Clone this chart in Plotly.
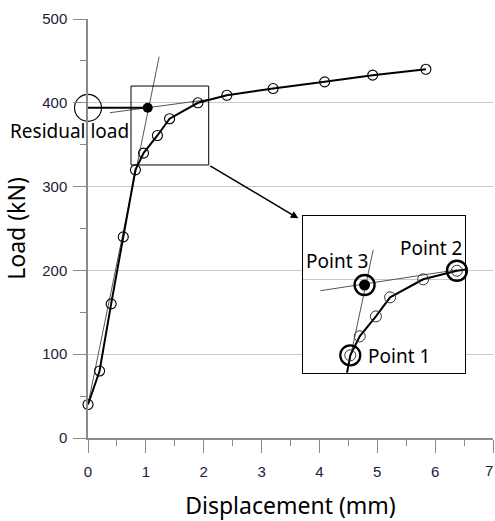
import plotly.graph_objects as go

# ---- data ----
disp = [0, 0.2, 0.4, 0.61, 0.82, 0.96, 1.2, 1.41, 1.9, 2.4, 3.2, 4.09, 4.92, 5.84]
load = [40, 80, 160, 240, 320, 340, 361, 381, 400, 409, 417, 425, 433, 440]

elastic_x = [0, 1.23]
elastic_y = [40, 455]
plastic_x = [0.38, 2.1]
plastic_y = [388.2, 404]

residual_x = [0, 1.032]
residual_y = [394, 394]

inset_elastic_x = [0.78, 1.16]
inset_elastic_y = [304, 431]
inset_plastic_x = [0.38, 2.4]
inset_plastic_y = [388, 410]

marked_x = [0.82, 2.4, 1.032]      # Point 1, Point 2, Point 3
marked_y = [320, 409, 394]
marked_names = ["Point 1", "Point 2", "Point 3"]

x_ticks = [0, 1, 2, 3, 4, 5, 6, 7]
y_ticks = [0, 100, 200, 300, 400, 500]

zoom_box = dict(x0=0.743, x1=2.086, y0=325.8, y1=420)

FONT = "Noto Sans"
TICKFONT = dict(family="Liberation Sans, Arial", size=15, color="#1c2238")
AXIS_GRAY = "#8a8a8a"
GRID_GRAY = "#c8c8c8"

fig = go.Figure()

# ---- main chart ----
fig.add_trace(go.Scatter(x=elastic_x, y=elastic_y, mode="lines",
                         line=dict(color="#555555", width=1), hoverinfo="skip"))
fig.add_trace(go.Scatter(x=plastic_x, y=plastic_y, mode="lines",
                         line=dict(color="#555555", width=1), hoverinfo="skip"))
fig.add_trace(go.Scatter(x=residual_x, y=residual_y, mode="lines",
                         line=dict(color="black", width=2), hoverinfo="skip"))
fig.add_trace(go.Scatter(x=disp, y=load, mode="lines+markers",
                         line=dict(color="black", width=2),
                         marker=dict(symbol="circle-open", size=10, color="black",
                                     line=dict(color="black", width=1.1)),
                         cliponaxis=False))
fig.add_trace(go.Scatter(x=[residual_x[1]], y=[residual_y[1]], mode="markers",
                         marker=dict(symbol="circle", size=10, color="black"),
                         cliponaxis=False))
fig.add_trace(go.Scatter(x=[residual_x[0]], y=[residual_y[0]], mode="markers",
                         marker=dict(symbol="circle-open", size=27, color="black",
                                     line=dict(color="black", width=1.1)),
                         cliponaxis=False))

# ---- inset ----
fig.add_trace(go.Scatter(x=inset_elastic_x, y=inset_elastic_y, mode="lines",
                         line=dict(color="#555555", width=1),
                         xaxis="x2", yaxis="y2", hoverinfo="skip"))
fig.add_trace(go.Scatter(x=inset_plastic_x, y=inset_plastic_y, mode="lines",
                         line=dict(color="#555555", width=1),
                         xaxis="x2", yaxis="y2", hoverinfo="skip"))
fig.add_trace(go.Scatter(x=disp, y=load, mode="lines+markers",
                         line=dict(color="black", width=2),
                         marker=dict(symbol="circle-open", size=11, color="#333333",
                                     line=dict(color="#333333", width=1)),
                         xaxis="x2", yaxis="y2"))
fig.add_trace(go.Scatter(x=[residual_x[1]], y=[residual_y[1]], mode="markers",
                         marker=dict(symbol="circle", size=11, color="black"),
                         xaxis="x2", yaxis="y2"))
fig.add_trace(go.Scatter(x=marked_x, y=marked_y, mode="markers",
                         marker=dict(symbol="circle-open", size=20, color="black",
                                     line=dict(color="black", width=2.3)),
                         xaxis="x2", yaxis="y2", cliponaxis=False))

fig.add_shape(type="rect", xref="x", yref="y", **zoom_box,
              line=dict(color="black", width=1))

fig.add_annotation(x=3.635, y=262.2, ax=zoom_box["x1"], ay=zoom_box["y0"],
                   xref="x", yref="y", axref="x", ayref="y", text="",
                   showarrow=True, arrowhead=2, arrowsize=1, arrowwidth=1.5,
                   arrowcolor="black")

label_pos = {"Point 1": (5.375, 97.9), "Point 2": (5.925, 226.7), "Point 3": (4.312, 211.2)}
for name in marked_names:
    px, py = label_pos[name]
    fig.add_annotation(x=px, y=py, xref="x", yref="y", text=name, showarrow=False,
                       xanchor="center", yanchor="middle",
                       font=dict(family=FONT, size=19, color="black"))

fig.add_annotation(x=-0.0469, y=0.7327, xref="paper", yref="paper",
                   text="Residual load", showarrow=False,
                   xanchor="center", yanchor="middle",
                   font=dict(family=FONT, size=19, color="black"))

# last x tick label sits right at the page edge: keep it inside the page
x_ticktext = [str(v) for v in x_ticks[:-1]] + [""]
fig.add_annotation(x=1.0025, y=-0.0764, xref="paper", yref="paper",
                   text=str(x_ticks[-1]), showarrow=False,
                   xanchor="right", yanchor="middle", borderpad=0,
                   font=TICKFONT)

fig.update_layout(
    width=495, height=521,
    margin=dict(l=88, r=2, t=19, b=83),
    paper_bgcolor="white", plot_bgcolor="white",
    showlegend=False,
    xaxis=dict(range=[0, 7], tickvals=x_ticks, ticktext=x_ticktext,
               showgrid=False, zeroline=False,
               showline=True, linecolor=AXIS_GRAY, linewidth=1.5,
               ticks="outside", ticklen=13, tickcolor=AXIS_GRAY, tickwidth=1.3,
               minor=dict(dtick=0.5, ticks="outside", ticklen=6, tickcolor=AXIS_GRAY,
                          tickwidth=1.3, showgrid=False),
               tickfont=TICKFONT, ticklabelstandoff=6,
               title=dict(text="Displacement (mm)", font=dict(family=FONT, size=23, color="black"),
                          standoff=24)),
    yaxis=dict(range=[0, 500], tickvals=y_ticks, showgrid=True, gridcolor=GRID_GRAY,
               gridwidth=1, zeroline=False,
               showline=True, linecolor=AXIS_GRAY, linewidth=1.5,
               ticks="outside", ticklen=13, tickcolor=AXIS_GRAY, tickwidth=1.3,
               minor=dict(dtick=50, ticks="outside", ticklen=6, tickcolor=AXIS_GRAY,
                          tickwidth=1.3, showgrid=False),
               tickfont=TICKFONT, ticklabelstandoff=3,
               title=dict(text="Load (kN)", font=dict(family=FONT, size=23, color="black"),
                          standoff=10)),
    xaxis2=dict(domain=[0.5316, 0.9309], anchor="y2", range=[0.124, 2.52],
                showgrid=False, zeroline=False, showticklabels=False, ticks="",
                showline=True, mirror=True, linecolor="black", linewidth=1),
    yaxis2=dict(domain=[0.1558, 0.5305], anchor="x2", range=[301.7, 466.9],
                tickvals=[400], showgrid=True, gridcolor=GRID_GRAY, gridwidth=1,
                zeroline=False, showticklabels=False, ticks="",
                showline=True, mirror=True, linecolor="black", linewidth=1),
)

fig.write_html(
    "out.html", config={"displayModeBar": False},
    post_script=(
        "document.body.style.margin='0px';"
        "document.body.style.overflow='hidden';"
    ),
)
